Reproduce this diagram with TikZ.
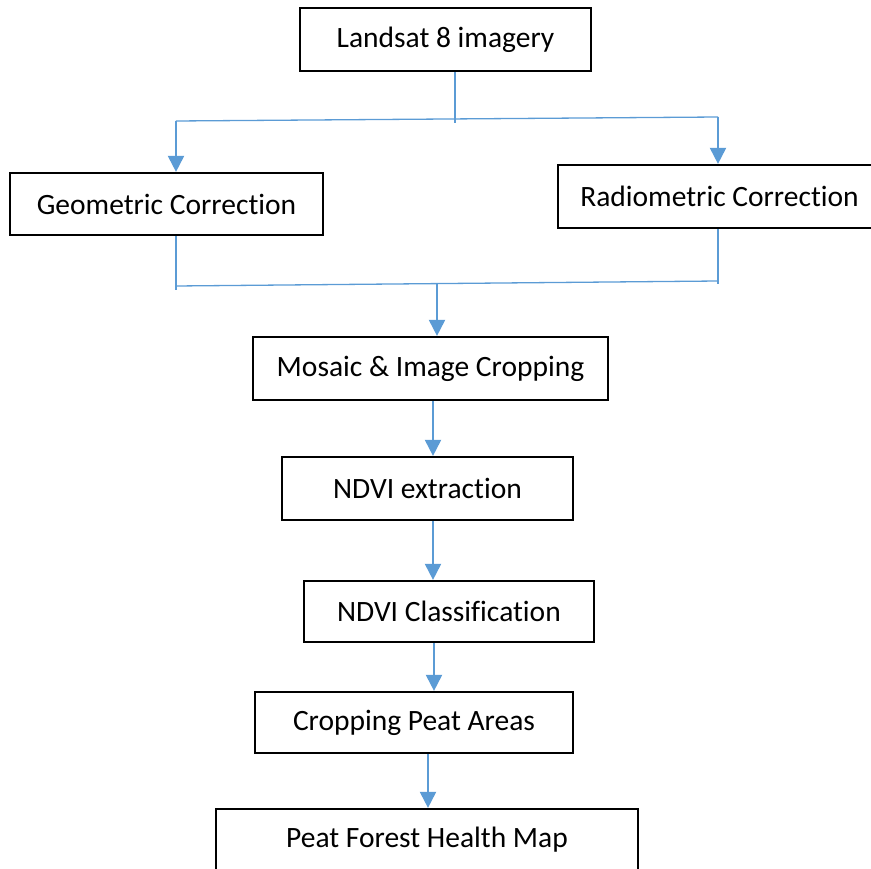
\documentclass[tikz,border=0pt]{standalone}
\usepackage{fontspec}
\setmainfont{Carlito}[Ligatures={NoCommon}]
\usetikzlibrary{arrows.meta}
\definecolor{arrblue}{RGB}{91,155,213}
\begin{document}
\begin{tikzpicture}[x=1pt,y=-1pt,
  box/.style={draw=black,line width=2.2pt,inner sep=0pt,fill=white,font=\fontsize{29.5}{34}\selectfont},
  conn/.style={draw=arrblue,line width=1.3pt},
  arr/.style={draw=arrblue,line width=2pt,-{Triangle[width=16pt,length=16pt]}}]
\useasboundingbox (0,0) rectangle (871,869);
\clip (0,0) rectangle (871,869);
\node[box,minimum width=291,minimum height=63] (land) at (445.5,39.5) {Landsat 8 imagery};
\node[box,minimum width=313,minimum height=62] (geo) at (166.5,204) {Geometric Correction};
\node[box,minimum width=323,minimum height=63] (rad) at (719.5,196.5) {Radiometric Correction};
\node[box,minimum width=355,minimum height=63] (mos) at (430.5,368.5) {Mosaic \& Image Cropping};
\node[box,minimum width=291,minimum height=63] (ext) at (427.5,488.5) {NDVI extraction};
\node[box,minimum width=290,minimum height=61] (cls) at (449,611.5) {NDVI Classification};
\node[box,minimum width=318,minimum height=61] (crop) at (414,722.5) {Cropping Peat Areas};
\node[box,minimum width=422,minimum height=61] (map) at (427,839.5) {Peat Forest Health Map};
% top split
\coordinate (tj) at (455,123);
\coordinate (tl) at (176,121);
\coordinate (tr) at (718,117);
\draw[conn] (tj |- land.south) -- (tj);
\draw[conn] (tl) -- (tr);
\draw[arr] (tl) -- (tl |- geo.north);
\draw[arr] (tr) -- (tr |- rad.north);
% bottom merge
\coordinate (bl) at (176,290);
\coordinate (br) at (718,284);
\coordinate (bll) at (176,286);
\coordinate (brr) at (718,281);
\coordinate (bm) at (437,284);
\draw[conn] (bl |- geo.south) -- (bl);
\draw[conn] (br |- rad.south) -- (br);
\draw[conn] (bll) -- (brr);
\draw[arr] (bm) -- (bm |- mos.north);
% chain
\coordinate (a1) at (433,0);
\coordinate (a2) at (433,0);
\coordinate (a3) at (434,0);
\coordinate (a4) at (428,0);
\draw[arr] (a1 |- mos.south) -- (a1 |- ext.north);
\draw[arr] (a2 |- ext.south) -- (a2 |- cls.north);
\draw[arr] (a3 |- cls.south) -- (a3 |- crop.north);
\draw[arr] (a4 |- crop.south) -- (a4 |- map.north);
\end{tikzpicture}
\end{document}
